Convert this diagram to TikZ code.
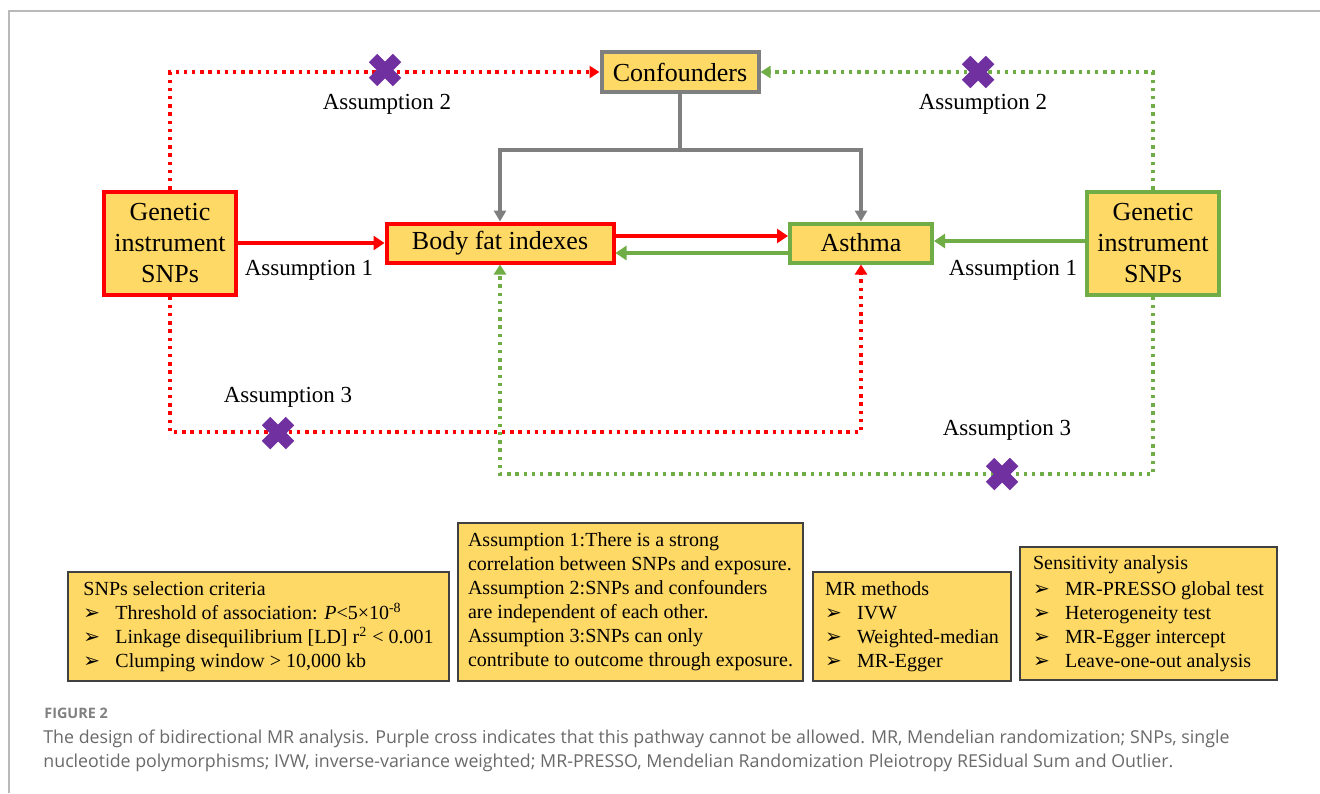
\documentclass[tikz,border=0pt]{standalone}
\usepackage{fontspec}
\setmainfont{Liberation Serif}
\newfontfamily\capfont{Open Sans}
\newfontfamily\dingfont{DejaVu Sans}
\usepackage{xcolor}
\usetikzlibrary{arrows.meta}

\definecolor{boxfill}{HTML}{FFD966}
\definecolor{mrred}{HTML}{FF0000}
\definecolor{mrgreen}{HTML}{70AD47}
\definecolor{mrgray}{HTML}{7F7F7F}
\definecolor{mrpurple}{HTML}{7030A0}
\definecolor{capgray}{HTML}{6A6A6A}
\newcommand{\itm}{\makebox[16pt][l]{\dingfont\fontsize{10}{10}\selectfont ➢}}

\begin{document}
\begin{tikzpicture}[x=0.5pt,y=-0.5pt,
    mainbox/.style={draw,line width=2pt,fill=boxfill,align=center,inner sep=0pt,font=\fontsize{13}{15.5}\selectfont},
    notebox/.style={draw=black!75,line width=0.6pt,fill=boxfill,align=left,inner sep=0pt,font=\fontsize{10}{12}\selectfont},
    solidarrow/.style={line width=2pt,-{Triangle[length=5.5pt,width=7pt]}},
    grayarrow/.style={mrgray,line width=1.7pt,-{Triangle[length=5.5pt,width=6pt]}},
    dotarrow/.style={line width=1.7pt,dash pattern=on 1.7pt off 2.4pt,-{Triangle[length=5pt,width=6pt]}},
    asmlabel/.style={font=\fontsize{11.5}{13}\selectfont},
    nogo/.pic={\draw[mrpurple,line width=6pt] (-12,-12) -- (12,12) (-12,12) -- (12,-12);}]
    \fill[white] (0,0) rectangle (1320,793);
    \useasboundingbox (0,0) rectangle (1320,793);
    \draw[gray!55,line width=0.7pt] (9,793) -- (9,11) -- (1320,11);

    % main boxes
    \node[mainbox,draw=mrred,minimum width=66pt,minimum height=51.5pt] (gen1) at (170,243) {Genetic\\instrument\\SNPs};
    \node[mainbox,draw=mrgreen,minimum width=66pt,minimum height=51.5pt] (gen2) at (1153,243) {Genetic\\instrument\\SNPs};
    \node[mainbox,draw=mrred,minimum width=113.5pt,minimum height=19.5pt] (bodyfat) at (500,243) {Body fat indexes};
    \node[mainbox,draw=mrgreen,minimum width=71pt,minimum height=19.5pt] (asthma) at (861,243) {Asthma};
    \node[mainbox,draw=mrgray,minimum width=78.5pt,minimum height=20pt] (conf) at (680,72) {Confounders};

    \coordinate (split) at (680,150);
    \coordinate (redlow) at (170,432);
    \coordinate (greenlow) at (1153,474);

    % confounding
    \draw[mrgray,line width=1.7pt] (conf) to (split);
    \draw[grayarrow] (split) -| (bodyfat.north);
    \draw[grayarrow] (split) -| (asthma.north);

    % assumption 1
    \draw[solidarrow,mrred] (gen1) to (bodyfat);
    \draw[solidarrow,mrred] ([yshift=3.5pt]bodyfat.east) to ([yshift=3.5pt]asthma.west);
    \draw[solidarrow,mrgreen] ([yshift=-5pt]asthma.west) to ([yshift=-5pt]bodyfat.east);
    \draw[solidarrow,mrgreen] ([yshift=1pt]gen2.west) to ([yshift=1pt]asthma.east);

    % assumptions 2 and 3
    \draw[dotarrow,mrred] (gen1.north) |- (conf.west);
    \draw[dotarrow,mrgreen] (gen2.north) |- (conf.east);
    \draw[dotarrow,mrred] (gen1.south) to (redlow) -| (asthma.south);
    \draw[dotarrow,mrgreen] (gen2.south) to (greenlow) -| (bodyfat.south);

    \pic at (385,70) {nogo};
    \pic at (978,72) {nogo};
    \pic at (278,433) {nogo};
    \pic at (1002,474) {nogo};

    \node[asmlabel] (a2red) at (387,104) {Assumption 2};
    \node[asmlabel] (a2green) at (983,104) {Assumption 2};
    \node[asmlabel] (a1red) at (309,270) {Assumption 1};
    \node[asmlabel] (a1green) at (1013,270) {Assumption 1};
    \node[asmlabel] (a3red) at (288,397) {Assumption 3};
    \node[asmlabel] (a3green) at (1007,430) {Assumption 3};

    % notes
    \node[notebox,minimum width=190.5pt,minimum height=54.5pt] (criteria) at (258.5,626.5) {SNPs selection criteria\\
        \itm Threshold of association: \textit{P}<5×10\textsuperscript{-8}\\
        \itm Linkage disequilibrium [LD] r\textsuperscript{2} < 0.001\\
        \itm Clumping window > 10,000 kb};
    \node[notebox,minimum width=172.5pt,minimum height=79pt] (assume) at (630.5,602) {Assumption 1:There is a strong\\
        correlation between SNPs and exposure.\\
        Assumption 2:SNPs and confounders\\
        are independent of each other.\\
        Assumption 3:SNPs can only\\
        contribute to outcome through exposure.};
    \node[notebox,minimum width=99pt,minimum height=54.5pt] (methods) at (912,626.5) {MR methods\\
        \itm IVW\\
        \itm Weighted-median\\
        \itm MR-Egger};
    \node[notebox,minimum width=128.5pt,minimum height=66.5pt] (sens) at (1148.5,613.5) {Sensitivity analysis\\[1pt]
        \itm MR-PRESSO global test\\
        \itm Heterogeneity test\\
        \itm MR-Egger intercept\\
        \itm Leave-one-out analysis};

    % caption
    \node[anchor=base west,inner sep=0pt,text=capgray!85,font=\capfont\bfseries\fontsize{7.2}{8}\selectfont] (fig) at (44,718) {FIGURE 2};
    \node[anchor=base west,inner sep=0pt,text=capgray,font=\capfont\fontsize{8.9}{12}\selectfont] (cap1) at (43,743) {The design of bidirectional MR analysis. Purple cross indicates that this pathway cannot be allowed. MR, Mendelian randomization; SNPs, single};
    \node[anchor=base west,inner sep=0pt,text=capgray,font=\capfont\fontsize{8.9}{12}\selectfont] (cap2) at (43,767) {nucleotide polymorphisms; IVW, inverse-variance weighted; MR-PRESSO, Mendelian Randomization Pleiotropy RESidual Sum and Outlier.};
\end{tikzpicture}
\end{document}
